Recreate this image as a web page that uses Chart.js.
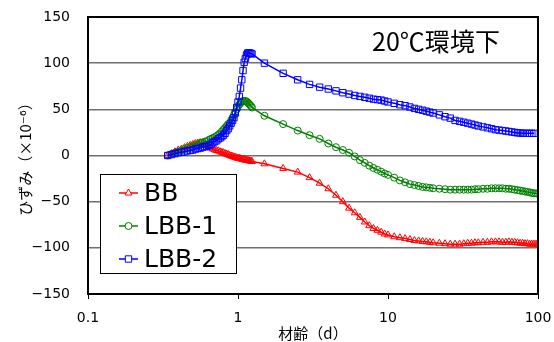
<!DOCTYPE html>
<html>
<head>
<meta charset="utf-8">
<script src="https://cdn.jsdelivr.net/npm/chart.js"></script>
<style>
  html, body { margin: 0; padding: 0; background: #fff; }
  canvas { display: block; }
</style>
</head>
<body>
<canvas id="strainChart" width="554" height="342"></canvas>
<script>
// 材齢 (d)
const ages = [
    0.34, 0.36, 0.38, 0.40, 0.42, 0.44, 0.46, 0.48, 0.50, 0.52,
    0.54, 0.56, 0.58, 0.60, 0.62, 0.64, 0.66, 0.68, 0.70, 0.72,
    0.74, 0.76, 0.78, 0.80, 0.82, 0.84, 0.86, 0.88, 0.90, 0.92,
    0.94, 0.96, 0.98, 1.00, 1.02, 1.04, 1.06, 1.08, 1.10, 1.12,
    1.14, 1.16, 1.18, 1.20, 1.22, 1.24,
    1.5, 2.0, 2.5, 3.0, 3.5, 4.0, 4.5, 5.0, 5.5, 6.0,
    6.5, 7.0, 7.5, 8.0, 8.5, 9.0, 9.5, 10,
    11, 12, 13, 14, 15, 16, 17, 18, 19, 20,
    22, 24, 26, 28, 30, 32, 34, 36, 38, 40,
    43, 46, 49, 52, 55, 58, 61, 64, 67, 70,
    73, 76, 79, 82, 85, 88, 91, 94, 97, 100
];

// ひずみ (×10^-6)
const bbStrain = [
    0, 2, 4, 6, 7, 8.5, 10, 11, 12, 13,
    13.5, 14, 13, 12, 10.5, 9, 8, 7, 6, 5.5,
    5, 4, 3.5, 3, 2, 1.5, 1, 0, -0.5, -1,
    -1.5, -2, -2.5, -3, -3, -3.5, -4, -4, -4.5, -5,
    -5, -5.5, -5.5, -6, -6, -6.5,
    -9, -14, -18, -24, -30, -36, -43, -50, -57, -62,
    -67, -72, -76, -79, -81, -83, -85, -86,
    -88, -89, -90, -91, -92, -92.5, -93, -93.5, -94, -94.5,
    -95, -95.5, -96, -96, -96, -95.5, -95, -95, -94.5, -94.5,
    -94, -94, -93.5, -93.5, -93.5, -94, -94, -93.5, -94, -94,
    -94.5, -95, -95, -95.5, -95.5, -96, -96, -96, -96, -96
];

const lbb1Strain = [
    0, 1.5, 3, 4, 5.5, 7, 8, 9, 10, 11,
    12, 13, 14, 15, 15.5, 17, 18, 19, 20, 21,
    22.5, 24, 26, 28, 30, 32, 34, 35, 38, 41,
    44, 47, 50, 53, 55, 57, 58, 59, 59, 59,
    58.5, 57.5, 56, 55, 53.5, 52,
    43, 34, 27, 22, 18, 13, 9, 6, 3, -1,
    -5, -8, -11, -13.5, -15.5, -17.5, -19.5, -21,
    -24, -27, -29, -31, -32, -33, -34, -34.5, -35, -35.5,
    -36, -36.5, -37, -37, -37, -37, -37, -37, -36.5, -36.5,
    -36, -36, -35.5, -35.5, -35.5, -35.5, -36, -36, -36.5, -37,
    -37.5, -38, -38.5, -39, -39.5, -40, -40.5, -41, -41, -41.5
];

const lbb2Strain = [
    0, 1, 2, 3, 3.5, 4, 5, 5.5, 6, 7,
    7.5, 8, 9, 9.5, 10, 11, 12, 14, 15, 16,
    18, 19, 20.5, 22, 24, 27, 29, 32, 35, 38,
    41, 46, 52, 58, 64, 73, 82, 92, 101, 105,
    109, 111, 111, 111, 110.5, 110,
    100, 89, 82, 77, 74, 72, 70, 68, 66.5, 65,
    64, 63, 62, 61, 60.5, 60, 59, 58,
    56.5, 55, 54, 52.5, 51, 50, 49, 48, 47, 46,
    44, 42, 40.5, 38, 37, 36, 35, 34, 33, 32,
    31, 30, 29, 28, 27.5, 27, 26.5, 26, 25.5, 25,
    24.5, 24.5, 24, 24, 24, 24, 24, 24, null, null
];

const seriesNames = ['BB', 'LBB-1', 'LBB-2'];
const xTickValues = [0.1, 1, 10, 100];
const xTickLabels = ['0.1', '1', '10', '100'];
const yTickValues = [-150, -100, -50, 0, 50, 100, 150];
const yTickLabels = ['\u2212150', '\u2212100', '\u221250', '0', '50', '100', '150'];

const LATIN = '"DejaVu Sans", "Noto Sans CJK JP", sans-serif';
const JP = '"Noto Sans CJK JP", "DejaVu Sans", sans-serif';

const styles = [
    { color: '#ff0000', point: 'triangle', radius: 4 },
    { color: '#008000', point: 'circle', radius: 3.5 },
    { color: '#0000ff', point: 'rect', radius: 4.5 }
];

function toPoints(values) {
    return ages.map((a, i) => ({ x: a, y: values[i] }));
}

// 凡例・枠・タイトル
function drawMarker(ctx, style, x, y) {
    const r = style.radius;
    ctx.beginPath();
    if (style.point === 'triangle') {
        ctx.moveTo(x, y - r);
        ctx.lineTo(x + r * 0.866, y + r * 0.5);
        ctx.lineTo(x - r * 0.866, y + r * 0.5);
        ctx.closePath();
    } else if (style.point === 'circle') {
        ctx.arc(x, y, r, 0, Math.PI * 2);
    } else {
        const s = r * Math.SQRT1_2;
        ctx.rect(x - s, y - s, s * 2, s * 2);
    }
    ctx.fillStyle = '#fff';
    ctx.fill();
    ctx.stroke();
}

const overlay = {
    id: 'overlay',
    afterDraw(chart) {
        const ctx = chart.ctx;
        const a = chart.chartArea;
        ctx.save();

        // plot frame
        ctx.strokeStyle = '#000';
        ctx.lineWidth = 2;
        ctx.strokeRect(a.left, a.top, a.right - a.left, a.bottom - a.top);

        // legend box
        ctx.lineWidth = 1;
        ctx.fillStyle = '#fff';
        ctx.fillRect(100.5, 174.5, 136, 99);
        ctx.strokeRect(100.5, 174.5, 136, 99);
        seriesNames.forEach((name, i) => {
            const y = 193 + i * 33;
            const st = styles[i];
            ctx.strokeStyle = st.color;
            ctx.lineWidth = 1.5;
            ctx.beginPath();
            ctx.moveTo(119, y);
            ctx.lineTo(138, y);
            ctx.stroke();
            ctx.lineWidth = 1;
            drawMarker(ctx, st, 128.5, y);
            ctx.fillStyle = '#000';
            ctx.font = '25px ' + LATIN;
            ctx.textAlign = 'left';
            ctx.textBaseline = 'middle';
            ctx.fillText(name, 144, y + 1);
        });

        // title
        ctx.fillStyle = '#000';
        ctx.font = '25px ' + JP;
        ctx.textAlign = 'center';
        ctx.textBaseline = 'middle';
        ctx.fillText('20℃環境下', 436, 41);
        ctx.restore();
    }
};

const datasets = [bbStrain, lbb1Strain, lbb2Strain].map((vals, i) => ({
    label: seriesNames[i],
    data: toPoints(vals),
    borderColor: styles[i].color,
    borderWidth: 1.5,
    pointStyle: styles[i].point,
    pointRadius: styles[i].radius,
    pointBorderWidth: 1,
    pointBorderColor: styles[i].color,
    pointBackgroundColor: 'rgba(255,255,255,0)',
    tension: 0,
    order: 3 - i
}));

new Chart(document.getElementById('strainChart'), {
    type: 'line',
    data: { datasets: datasets },
    options: {
        responsive: false,
        animation: false,
        devicePixelRatio: 1,
        layout: { padding: { left: 16, right: 16, top: 17, bottom: 0 } },
        plugins: {
            legend: { display: false },
            tooltip: { enabled: false }
        },
        scales: {
            x: {
                type: 'logarithmic',
                min: 0.1,
                max: 100,
                afterBuildTicks: s => { s.ticks = xTickValues.map(v => ({ value: v })); },
                afterFit: s => {
                    s.height = 48;
                    s.paddingLeft = 0;
                    s.paddingRight = 0;
                },
                ticks: {
                    callback: (v, i) => xTickLabels[i],
                    color: '#000',
                    font: { family: LATIN, size: 14 },
                    padding: 11,
                    maxRotation: 0,
                    autoSkip: false
                },
                grid: { drawOnChartArea: false, drawTicks: true, tickLength: 5, color: '#000' },
                border: { color: '#000', width: 2 },
                title: {
                    display: true,
                    text: '材齢（d）',
                    color: '#000',
                    font: { family: JP, size: 15 },
                    padding: { top: 0, bottom: 0 }
                }
            },
            y: {
                min: -150,
                max: 150,
                afterBuildTicks: s => { s.ticks = yTickValues.map(v => ({ value: v })); },
                afterFit: s => {
                    s.width = 72;
                    s.paddingTop = 0;
                    s.paddingBottom = 0;
                },
                ticks: {
                    callback: (v, i) => yTickLabels[i],
                    color: '#000',
                    font: { family: LATIN, size: 14 },
                    padding: 18
                },
                grid: { drawTicks: false, color: '#707070', lineWidth: 1.5 },
                border: { color: '#000', width: 2 },
                title: {
                    display: true,
                    text: 'ひずみ（×10⁻⁶）',
                    color: '#000',
                    font: { family: JP, size: 15 },
                    padding: { top: 0, bottom: 0 }
                }
            }
        }
    },
    plugins: [overlay]
});
</script>
</body>
</html>
